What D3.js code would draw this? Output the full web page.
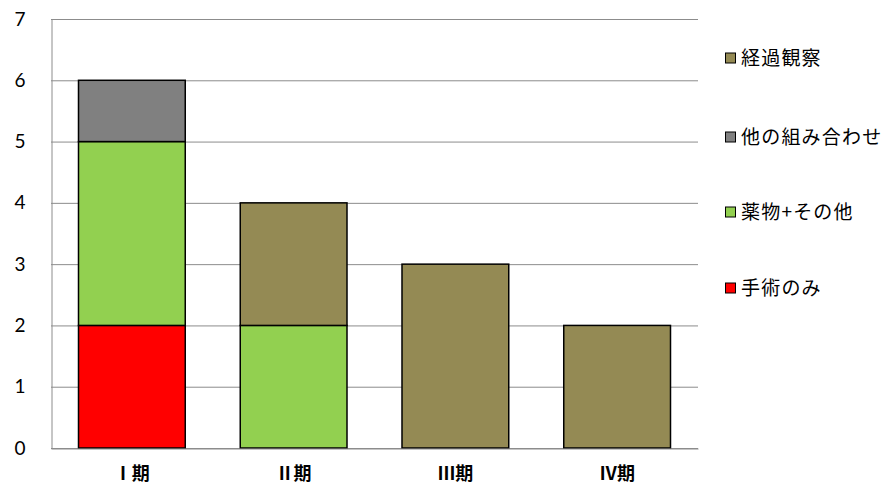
<!DOCTYPE html>
<html>
<head>
<meta charset="utf-8">
<script src="https://cdn.jsdelivr.net/npm/d3@7"></script>
<style>
  body { margin: 0; background: #fff; }
  svg { display: block; }
</style>
</head>
<body>
<div id="chart"></div>
<script>
// stacked bars per stage

var categories = ["Ⅰ期", "Ⅱ期", "Ⅲ期", "Ⅳ期"];
var seriesNames = ["手術のみ", "薬物+その他", "他の組み合わせ", "経過観察"];
var surgeryOnly = [2, 0, 0, 0];
var drugOther = [3, 2, 0, 0];
var otherCombo = [1, 0, 0, 0];
var observation = [0, 2, 3, 2];
var yTicks = [0, 1, 2, 3, 4, 5, 6, 7];

var colors = ["#ff0000", "#92d050", "#808080", "#948a54"];

var svgWidth = 889;
var svgHeight = 491;
var margin = { top: 19, right: 191, bottom: 43, left: 51 };
var chartWidth = svgWidth - margin.left - margin.right;
var chartHeight = svgHeight - margin.top - margin.bottom;

var svg = d3.select("#chart")
  .append("svg")
  .attr("width", svgWidth)
  .attr("height", svgHeight);

var chartGroup = svg.append("g")
  .attr("transform", `translate(${margin.left}, ${margin.top})`);

// build rows for d3.stack
var rows = categories.map(function(c, i) {
  var r = { cat: c };
  r[seriesNames[0]] = surgeryOnly[i];
  r[seriesNames[1]] = drugOther[i];
  r[seriesNames[2]] = otherCombo[i];
  r[seriesNames[3]] = observation[i];
  return r;
});
var stacked = d3.stack().keys(seriesNames)(rows);

var xscale = d3.scaleBand()
  .domain(categories)
  .range([0, chartWidth])
  .paddingInner(0.34)
  .paddingOuter(0.17);

var yscale = d3.scaleLinear()
  .domain([0, 7])
  .range([chartHeight, 0]);

// gridlines
chartGroup.append("g")
  .selectAll("line")
  .data(yTicks)
  .enter()
  .append("line")
  .attr("x1", 0)
  .attr("x2", chartWidth)
  .attr("y1", d => yscale(d) + 0.5)
  .attr("y2", d => yscale(d) + 0.5)
  .attr("stroke", "#8c8c8c")
  .attr("stroke-width", 1);

// left axis (line + labels only)
var leftAxis = d3.axisLeft(yscale)
  .tickValues(yTicks)
  .tickFormat(d3.format("d"))
  .tickSize(0)
  .tickPadding(31);
var yAxis = chartGroup.append("g")
  .call(leftAxis);
yAxis.select(".domain").attr("stroke", "#8c8c8c").attr("transform", "translate(0.5,0)");
yAxis.selectAll("text")
  .attr("font-family", "Lato, 'Open Sans', sans-serif")
  .attr("font-size", "19px")
  .attr("fill", "#000")
  .attr("text-anchor", "middle");

// bars
var layers = chartGroup.selectAll(".layer")
  .data(stacked)
  .enter()
  .append("g")
  .attr("fill", (d, i) => colors[i]);

layers.selectAll("rect")
  .data(d => d.filter(p => p[1] - p[0] > 0))
  .enter()
  .append("rect")
  .attr("x", d => xscale(d.data.cat))
  .attr("y", d => yscale(d[1]))
  .attr("width", xscale.bandwidth())
  .attr("height", d => yscale(d[0]) - yscale(d[1]))
  .attr("stroke", "#000")
  .attr("stroke-width", 1.5);

// bottom axis
var bottomAxis = d3.axisBottom(xscale).tickSize(0).tickPadding(19);
var xAxis = chartGroup.append("g")
  .attr("transform", `translate(0, ${chartHeight + 0.5})`)
  .call(bottomAxis);
xAxis.select(".domain").attr("stroke", "#8c8c8c");
xAxis.selectAll("text")
  .attr("font-family", "'Noto Sans CJK JP', sans-serif")
  .attr("font-weight", "bold")
  .attr("font-size", "18px")
  .attr("fill", "#000");

// legend, top entry is the top of the stack
var legendY = [58, 137, 212, 288];
var legendNames = seriesNames.slice().reverse();
var legendColors = colors.slice().reverse();
var legend = svg.append("g");
legendNames.forEach(function(name, i) {
  legend.append("rect")
    .attr("x", 725.5)
    .attr("y", legendY[i] - 5)
    .attr("width", 10)
    .attr("height", 10)
    .attr("fill", legendColors[i])
    .attr("stroke", "#000")
    .attr("stroke-width", 1);
  legend.append("text")
    .attr("x", 741)
    .attr("y", legendY[i])
    .attr("dy", "0.36em")
    .attr("font-family", "'Noto Sans CJK JP', sans-serif")
    .attr("font-size", "19px")
    .attr("letter-spacing", "1.2px")
    .attr("fill", "#000")
    .text(name);
});
</script>
</body>
</html>
